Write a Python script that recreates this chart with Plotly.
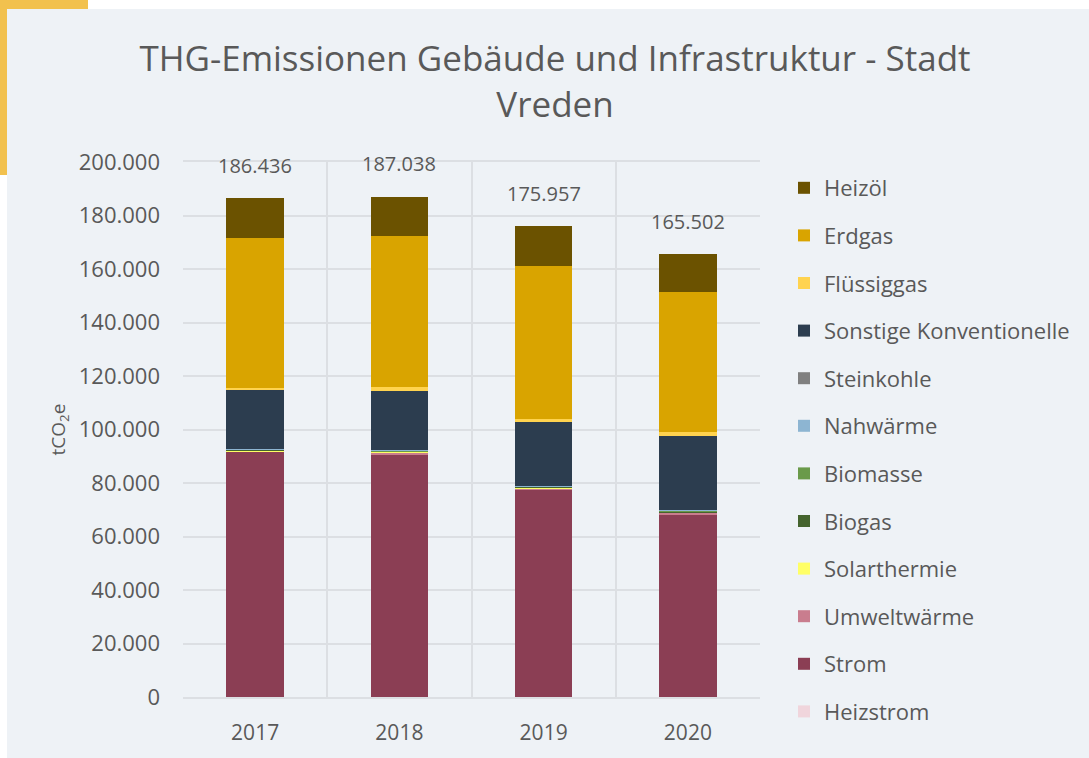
import plotly.graph_objects as go

years = ["2017", "2018", "2019", "2020"]

# Stapelreihenfolge von unten nach oben
heizstrom = [0, 0, 0, 0]
strom = [91600, 90500, 77400, 68400]
umweltwaerme = [300, 1000, 500, 400]
solarthermie = [400, 200, 600, 100]
biogas = [50, 100, 50, 400]
biomasse = [100, 300, 100, 300]
nahwaerme = [350, 200, 100, 200]
steinkohle = [0, 0, 0, 0]
sonstige = [21800, 22200, 23950, 27900]
fluessiggas = [900, 1500, 1300, 1500]
erdgas = [56100, 56400, 57100, 52100]
heizoel = [14836, 14638, 14857, 14202]

series = [
    ("Heizstrom", heizstrom, "#F0D5DC"),
    ("Strom", strom, "#8B3E54"),
    ("Umweltwärme", umweltwaerme, "#C97D8E"),
    ("Solarthermie", solarthermie, "#FFFF66"),
    ("Biogas", biogas, "#45642E"),
    ("Biomasse", biomasse, "#6A9A4A"),
    ("Nahwärme", nahwaerme, "#8DB5D2"),
    ("Steinkohle", steinkohle, "#808080"),
    ("Sonstige Konventionelle", sonstige, "#2C3D4F"),
    ("Flüssiggas", fluessiggas, "#FFD34F"),
    ("Erdgas", erdgas, "#D9A400"),
    ("Heizöl", heizoel, "#6B5200"),
]

totals = [sum(s[1][i] for s in series) for i in range(len(years))]

FONT = "Open Sans"
GREY = "#595959"

fig = go.Figure()
for i, (name, vals, col) in enumerate(series):
    fig.add_bar(x=years, y=vals, name=name, marker_color=col,
                marker_line_width=0, legendgroup="g%d" % i,
                legendrank=1000 - i)

# Summen über den Säulen (x als Kategorie-Index)
for i, tot in enumerate(totals):
    fig.add_annotation(x=i, y=tot, text=f"{tot:,}".replace(",", "."),
                       showarrow=False, yshift=33,
                       font=dict(size=20, color=GREY, family=FONT))

W, H = 1089, 758
L, R, T, B = 183, 760, 162, 697
def px(x):
    return (x - L) / (R - L)
def py(y):
    return (B - y) / (B - T)

fig.update_layout(
    width=W, height=H,
    barmode="stack", bargap=0.6,
    separators=",.",
    paper_bgcolor="white",
    plot_bgcolor="rgba(0,0,0,0)",
    margin=dict(l=L, r=W - R, t=T, b=H - B, pad=0, autoexpand=False),
    font=dict(family=FONT, color=GREY, size=20),
    title=dict(text="THG-Emissionen Gebäude und Infrastruktur - Stadt<br>Vreden",
               x=555 / W, xanchor="center", y=1 - 71 / H, yanchor="middle",
               font=dict(size=35, color=GREY, family=FONT)),
    legend=dict(x=px(784), xanchor="left", y=py(167), yanchor="top",
                traceorder="grouped", tracegroupgap=16, maxheight=740,
                font=dict(size=22, color=GREY, family=FONT),
                bgcolor="rgba(0,0,0,0)"),
    shapes=[
        dict(type="rect", xref="paper", yref="paper", layer="below",
             x0=px(-10), x1=px(88), y0=py(-10), y1=py(175),
             fillcolor="#F2C14E", line_width=0),
        dict(type="rect", xref="paper", yref="paper", layer="below",
             x0=px(7), x1=px(W + 10), y0=py(9), y1=py(H + 10),
             fillcolor="#EEF2F6", line_width=0),
    ],
)

fig.update_xaxes(type="category", range=[-0.5, len(years) - 0.5],
                 tickson="boundaries", ticklen=0, showgrid=True,
                 gridcolor="#DCDFE3", gridwidth=2,
                 showline=True, linecolor="#DCDFE3", linewidth=2, mirror=True,
                 tickfont=dict(size=21, color=GREY), ticklabelstandoff=16)
fig.update_yaxes(range=[0, 200000], dtick=20000, tickformat=",d",
                 showgrid=True, gridcolor="#DCDFE3", gridwidth=2,
                 zeroline=False, ticks="", ticklabelstandoff=22,
                 tickfont=dict(size=22, color=GREY),
                 title=dict(text="tCO<sub>2</sub>e", standoff=8,
                            font=dict(size=19, color=GREY)))

fig.write_html("out.html", config={"displayModeBar": False},
               post_script="document.body.style.margin='0';")
